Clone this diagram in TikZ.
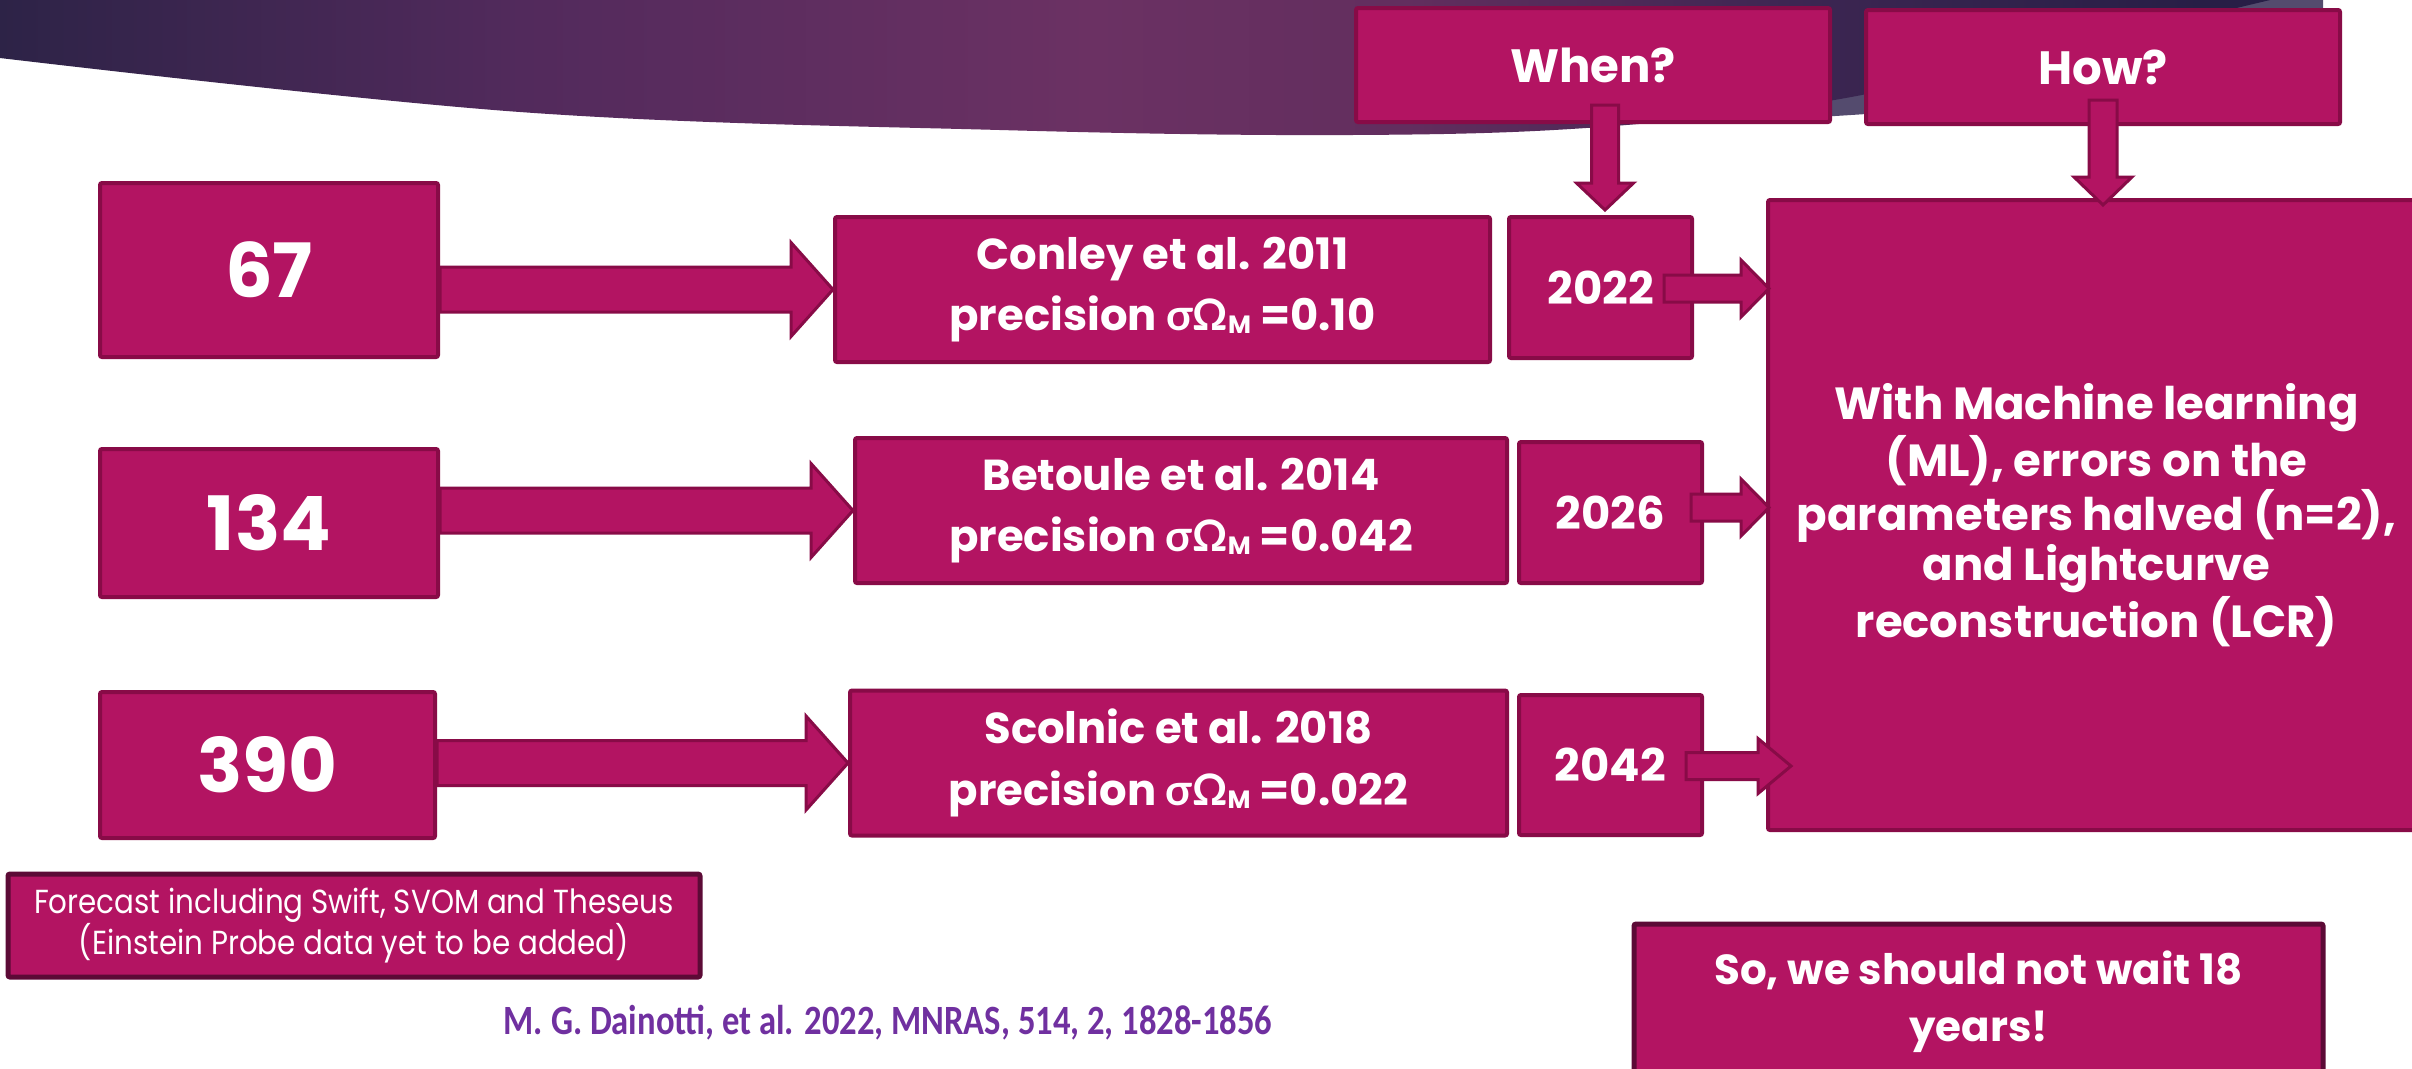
\documentclass[tikz,border=0pt]{standalone}
\usepackage{fontspec}
\setmainfont{Poppins}
\newfontfamily\grk{Lato}
\newfontfamily\narrowf[FakeStretch=0.88]{Poppins}
\newfontfamily\citef[FakeStretch=0.83]{Carlito}
\usetikzlibrary{calc}
\definecolor{mag}{HTML}{B31462}
\definecolor{bord}{HTML}{880B47}
\definecolor{dbord}{HTML}{5C0A36}
\definecolor{citec}{HTML}{7030A0}
\definecolor{b0}{HTML}{2D2347}
\definecolor{b1}{HTML}{522A5C}
\definecolor{b2}{HTML}{6B3163}
\definecolor{b3}{HTML}{622E5E}
\definecolor{b4}{HTML}{3D2652}
\definecolor{b5}{HTML}{271E46}
\definecolor{blight}{HTML}{544B6E}
\pgfdeclarehorizontalshading{banner}{100bp}{color(0bp)=(b0); color(25bp)=(b0); color(36.5bp)=(b1); color(49bp)=(b2); color(56bp)=(b3); color(64.5bp)=(b4); color(73.5bp)=(b5); color(100bp)=(b5)}
\newcommand\sig{{\grk σΩ}\raisebox{-0.8pt}{\fontsize{7.5}{8}\selectfont M}}
\newcommand\harrow[5]{\draw[blockarrow] let \p1=#1, \p2=#2 in
 (\x1,{\y2+#3*0.3pt}) -- ({\x2-#5*0.3pt},{\y2+#3*0.3pt}) -- ({\x2-#5*0.3pt},{\y2+#4*0.3pt}) -- (\x2,\y2)
 -- ({\x2-#5*0.3pt},{\y2-#4*0.3pt}) -- ({\x2-#5*0.3pt},{\y2-#3*0.3pt}) -- (\x1,{\y2-#3*0.3pt}) -- cycle;}
\newcommand\varrow[5]{\draw[blockarrow] let \p1=#1, \p2=#2 in
 ({\x2-#3*0.3pt},\y1) -- ({\x2-#3*0.3pt},{\y2+#5*0.3pt}) -- ({\x2-#4*0.3pt},{\y2+#5*0.3pt}) -- (\x2,\y2)
 -- ({\x2+#4*0.3pt},{\y2+#5*0.3pt}) -- ({\x2+#3*0.3pt},{\y2+#5*0.3pt}) -- ({\x2+#3*0.3pt},\y1) -- cycle;}
\tikzset{
 box/.style={draw=bord, fill=mag, line width=1.2pt, rounded corners=0.6pt, text=white, align=center, inner sep=0pt},
 qbox/.style={box, minimum width=142.2pt, minimum height=34.2pt, font=\bfseries\fontsize{14}{16}\selectfont},
 numbox/.style={box, font=\bfseries\fontsize{22.5}{26}\selectfont},
 refbox/.style={box, font=\bfseries\fontsize{13}{18.5}\selectfont},
 yearbox/.style={box, minimum width=54.9pt, font=\bfseries\fontsize{13.5}{16}\selectfont},
 bigbox/.style={box, font=\bfseries\fontsize{13.5}{15}\selectfont},
 darkbox/.style={box, draw=dbord, line width=1.5pt},
 blockarrow/.style={draw=bord, fill=mag, line width=0.9pt, line join=miter},
}
\begin{document}
\begin{tikzpicture}[x=0.3pt, y=-0.3pt]
\useasboundingbox (0,0) rectangle (2412,1068);
\clip (0,0) rectangle (2412,1068);
\fill[white] (0,0) rectangle (2412,1068);
% banner
\fill[blight] (1500,0) -- (2323,0) -- (2323,60) .. controls (2100,95) and (1950,110) .. (1800,118) -- (1500,128) -- cycle;
\shade[shading=banner] (0,0) -- plot[smooth, tension=0.6] coordinates {(0,58) (520,112) (1000,130) (1350,135) (1600,127) (1840,99) (2100,40) (2270,0)} -- cycle;
% top boxes
\node[qbox] (when) at (1593,65) {When?};
\node[qbox] (how) at (2103,67) {How?};
% row boxes
\node[numbox, minimum width=101.4pt, minimum height=52.2pt] (n67) at (269,270) {67};
\node[numbox, minimum width=101.4pt, minimum height=44.4pt] (n134) at (269,523) {134};
\node[numbox, minimum width=100.5pt, minimum height=43.8pt] (n390) at (267.5,765) {390};
\node[refbox, minimum width=196.5pt, minimum height=43.5pt] (conley) at (1162.5,289.5) {Conley et al. 2011\\precision \sig\ =0.10};
\node[refbox, minimum width=195.6pt, minimum height=43.5pt] (betoule) at (1181,510.5) {Betoule et al. 2014\\precision \sig\ =0.042};
\node[refbox, minimum width=197.1pt, minimum height=43.5pt] (scolnic) at (1178.5,763) {Scolnic et al. 2018\\precision \sig\ =0.022};
\node[yearbox, minimum height=42.3pt] (y22) at (1600.5,287.5) {2022};
\node[yearbox, minimum height=42.3pt] (y26) at (1610.5,512.5) {2026};
\node[yearbox, minimum height=42pt] (y42) at (1610.5,765) {2042};
\node[bigbox, minimum width=197.1pt, minimum height=189pt] (big) at (2096.5,515) {With Machine learning\\(ML), errors on the\\parameters halved (n=2),\\and Lightcurve\\reconstruction (LCR)};
% bottom
\node[darkbox, minimum width=207.6pt, minimum height=30.9pt, font=\narrowf\fontsize{10}{12.5}\selectfont] (forecast) at (354,925.5) {Forecast including Swift, SVOM and Theseus\\(Einstein Probe data yet to be added)};
\node[text=citec, font=\citef\bfseries\fontsize{12.5}{14}\selectfont, inner sep=0pt] (cite) at (888,1023) {M. G. Dainotti, et al. 2022, MNRAS, 514, 2, 1828-1856};
\node[darkbox, minimum width=206.7pt, minimum height=46.8pt, font=\bfseries\fontsize{12.6}{17}\selectfont] (so) at (1978.5,1002) {So, we should not wait 18\\years!};
% arrows
\harrow{(n67.east)}{(conley.west)}{22.5}{47}{42}
\harrow{(n134.east)}{(betoule.west)}{22.5}{47}{42}
\harrow{(n390.east)}{(scolnic.west)}{22.5}{47}{42}
\harrow{($(y22.east)+(-30,0)$)}{($(y22.east -| big.west)+(3,1)$)}{13.5}{28.5}{28}
\harrow{($(y26.east)+(-13,0)$)}{($(y26.east -| big.west)+(3,-5)$)}{13.5}{28.5}{28}
\harrow{($(y42.east)+(-18,0)$)}{($(y42.east -| big.west)+(25,1)$)}{13.5}{27.5}{33}
\varrow{($(when.south)+(0,-19)$)}{($(y22.north)+(4.5,-5)$)}{13.5}{28.5}{27}
\varrow{($(how.south)+(0,-26)$)}{($(how.south |- big.north)+(0,7)$)}{14}{29}{28}
\end{tikzpicture}
\end{document}
